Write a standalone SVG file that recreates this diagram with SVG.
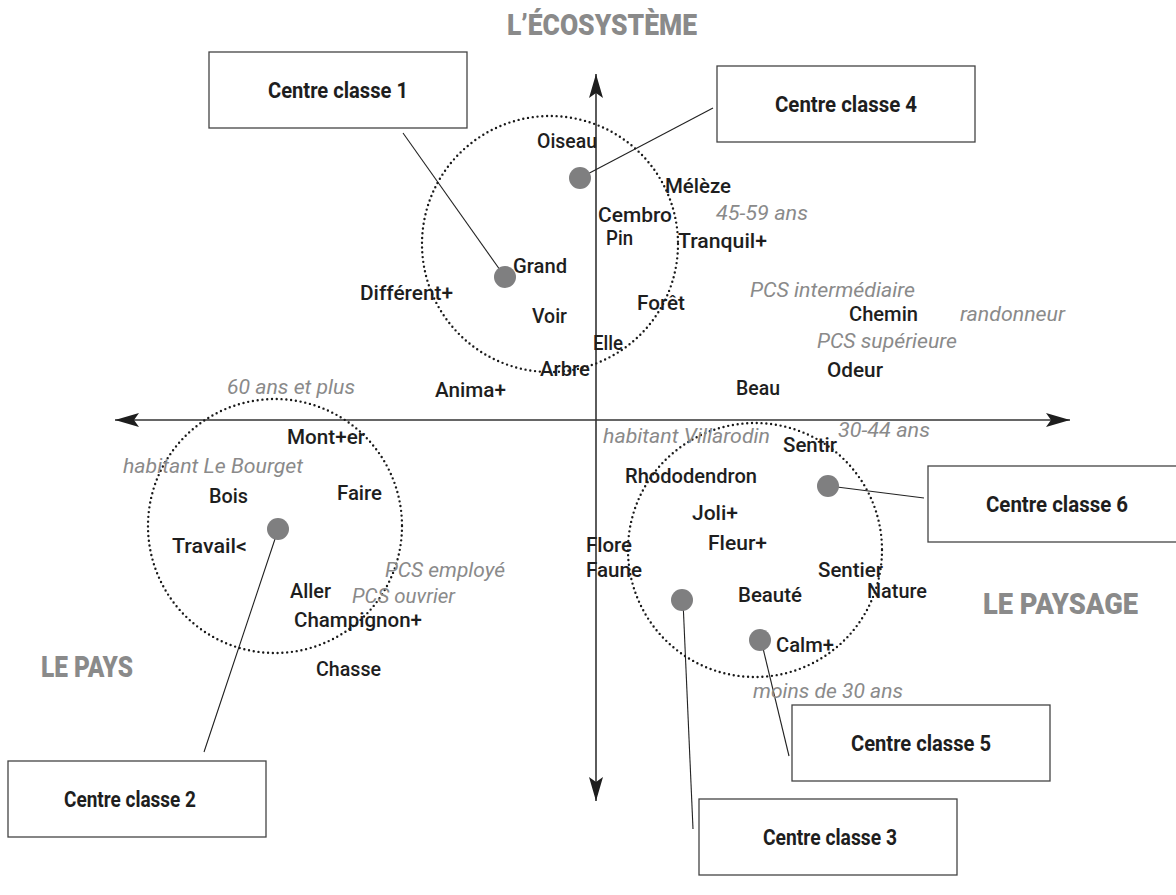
<svg xmlns="http://www.w3.org/2000/svg" width="1176" height="895" viewBox="0 0 1176 895">
<style>
.bg{fill:#ffffff}
.axis{stroke:#333333;stroke-width:1.6;fill:none}
.ring{fill:none;stroke:#1a1a1a;stroke-width:2.4;stroke-dasharray:0 4.8;stroke-linecap:round}
.dot{fill:#7f7f80}
.box{fill:#ffffff;stroke:#444444;stroke-width:1.3}
.conn{stroke:#222222;stroke-width:1.1;fill:none}
.w{font-family:Roboto,"Liberation Sans",Arial,sans-serif;font-size:21px;font-weight:500;fill:#1e1e1e}
.g{font-family:Roboto,"Liberation Sans",Arial,sans-serif;font-size:21px;font-style:italic;fill:#8a8a8a}
.t{font-family:Roboto,"Liberation Sans",Arial,sans-serif;font-size:29px;font-weight:900;fill:#8a8a8a}
.c{font-family:Roboto,"Liberation Sans",Arial,sans-serif;font-size:22px;font-weight:700;fill:#1e1e1e;text-anchor:middle}
</style>
<defs>
<marker id="ah" markerWidth="26" markerHeight="16" refX="24" refY="7" orient="auto" markerUnits="userSpaceOnUse">
<path d="M0,0 L24,7 L0,14 L5,7 Z" fill="#1e1e1e"/>
</marker>
</defs>
<rect class="bg" x="0" y="0" width="1176" height="895"/>

<g id="axes">
<line class="axis" x1="596" y1="420" x2="596" y2="74" marker-end="url(#ah)"/>
<line class="axis" x1="596" y1="420" x2="596" y2="801" marker-end="url(#ah)"/>
<line class="axis" x1="596" y1="420" x2="115" y2="420" marker-end="url(#ah)"/>
<line class="axis" x1="596" y1="420" x2="1070" y2="420" marker-end="url(#ah)"/>
</g>

<g id="clusters">
<circle class="ring" cx="550" cy="244" r="128"/>
<circle class="ring" cx="275" cy="526" r="127"/>
<circle class="ring" cx="755" cy="550" r="127"/>
</g>

<g id="titles">
<text class="t" x="507" y="35" textLength="190" lengthAdjust="spacingAndGlyphs">L’ÉCOSYSTÈME</text>
<text class="t" x="41" y="677" textLength="92" lengthAdjust="spacingAndGlyphs">LE PAYS</text>
<text class="t" x="983" y="614" textLength="155" lengthAdjust="spacingAndGlyphs">LE PAYSAGE</text>
</g>

<g id="connectors">
<line class="conn" x1="403" y1="133" x2="505" y2="277"/>
<line class="conn" x1="580" y1="178" x2="713" y2="108"/>
<line class="conn" x1="829" y1="486" x2="924" y2="498"/>
<line class="conn" x1="761" y1="640" x2="789" y2="756"/>
<line class="conn" x1="683" y1="601" x2="693" y2="829"/>
<line class="conn" x1="278" y1="530" x2="204" y2="752"/>
</g>

<g id="centre1">
<circle class="dot" cx="505" cy="277" r="11"/>
<rect class="box" x="209" y="52" width="258" height="76"/>
<text class="c" x="338" y="98" textLength="140" lengthAdjust="spacingAndGlyphs">Centre classe 1</text>
</g>
<g id="centre4">
<circle class="dot" cx="580" cy="178" r="11"/>
<rect class="box" x="717" y="66" width="258" height="76"/>
<text class="c" x="846" y="112" textLength="142" lengthAdjust="spacingAndGlyphs">Centre classe 4</text>
</g>
<g id="centre6">
<circle class="dot" cx="828" cy="486" r="11"/>
<rect class="box" x="928" y="466" width="258" height="76"/>
<text class="c" x="1057" y="512" textLength="142" lengthAdjust="spacingAndGlyphs">Centre classe 6</text>
</g>
<g id="centre5">
<circle class="dot" cx="760" cy="640" r="11"/>
<rect class="box" x="792" y="705" width="258" height="76"/>
<text class="c" x="921" y="751" textLength="140" lengthAdjust="spacingAndGlyphs">Centre classe 5</text>
</g>
<g id="centre3">
<circle class="dot" cx="682" cy="600" r="11"/>
<rect class="box" x="699" y="799" width="258" height="76"/>
<text class="c" x="830" y="845" textLength="134" lengthAdjust="spacingAndGlyphs">Centre classe 3</text>
</g>
<g id="centre2">
<circle class="dot" cx="278" cy="529" r="11"/>
<rect class="box" x="8" y="761" width="258" height="76"/>
<text class="c" x="130" y="807" textLength="132" lengthAdjust="spacingAndGlyphs">Centre classe 2</text>
</g>

<g id="words">
<text class="w" x="537" y="148" textLength="60" lengthAdjust="spacingAndGlyphs">Oiseau</text>
<text class="w" x="665" y="193" textLength="66" lengthAdjust="spacingAndGlyphs">Mélèze</text>
<text class="w" x="598" y="222" textLength="74" lengthAdjust="spacingAndGlyphs">Cembro</text>
<text class="w" x="606" y="245" textLength="27" lengthAdjust="spacingAndGlyphs">Pin</text>
<text class="w" x="678" y="248" textLength="89" lengthAdjust="spacingAndGlyphs">Tranquil+</text>
<text class="w" x="513" y="273" textLength="54" lengthAdjust="spacingAndGlyphs">Grand</text>
<text class="w" x="360" y="300" textLength="93" lengthAdjust="spacingAndGlyphs">Différent+</text>
<text class="w" x="532" y="323" textLength="35" lengthAdjust="spacingAndGlyphs">Voir</text>
<text class="w" x="637" y="310" textLength="48" lengthAdjust="spacingAndGlyphs">Forêt</text>
<text class="w" x="593" y="350" textLength="30" lengthAdjust="spacingAndGlyphs">Elle</text>
<text class="w" x="540" y="376" textLength="50" lengthAdjust="spacingAndGlyphs">Arbre</text>
<text class="w" x="435" y="397" textLength="71" lengthAdjust="spacingAndGlyphs">Anima+</text>
<text class="w" x="849" y="321" textLength="69" lengthAdjust="spacingAndGlyphs">Chemin</text>
<text class="w" x="827" y="377" textLength="56" lengthAdjust="spacingAndGlyphs">Odeur</text>
<text class="w" x="736" y="395" textLength="44" lengthAdjust="spacingAndGlyphs">Beau</text>
<text class="w" x="287" y="444" textLength="78" lengthAdjust="spacingAndGlyphs">Mont+er</text>
<text class="w" x="209" y="503" textLength="39" lengthAdjust="spacingAndGlyphs">Bois</text>
<text class="w" x="337" y="500" textLength="45" lengthAdjust="spacingAndGlyphs">Faire</text>
<text class="w" x="172" y="553" textLength="75" lengthAdjust="spacingAndGlyphs">Travail&lt;</text>
<text class="w" x="290" y="598" textLength="41" lengthAdjust="spacingAndGlyphs">Aller</text>
<text class="w" x="294" y="627" textLength="128" lengthAdjust="spacingAndGlyphs">Champignon+</text>
<text class="w" x="316" y="676" textLength="65" lengthAdjust="spacingAndGlyphs">Chasse</text>
<text class="w" x="783" y="452" textLength="54" lengthAdjust="spacingAndGlyphs">Sentir</text>
<text class="w" x="625" y="483" textLength="132" lengthAdjust="spacingAndGlyphs">Rhododendron</text>
<text class="w" x="692" y="520" textLength="46" lengthAdjust="spacingAndGlyphs">Joli+</text>
<text class="w" x="708" y="550" textLength="59" lengthAdjust="spacingAndGlyphs">Fleur+</text>
<text class="w" x="586" y="552" textLength="46" lengthAdjust="spacingAndGlyphs">Flore</text>
<text class="w" x="586" y="577" textLength="56" lengthAdjust="spacingAndGlyphs">Faune</text>
<text class="w" x="818" y="577" textLength="65" lengthAdjust="spacingAndGlyphs">Sentier</text>
<text class="w" x="867" y="598" textLength="60" lengthAdjust="spacingAndGlyphs">Nature</text>
<text class="w" x="738" y="602" textLength="64" lengthAdjust="spacingAndGlyphs">Beauté</text>
<text class="w" x="776" y="652" textLength="58" lengthAdjust="spacingAndGlyphs">Calm+</text>
</g>

<g id="variables">
<text class="g" x="716" y="220" textLength="92" lengthAdjust="spacingAndGlyphs">45-59 ans</text>
<text class="g" x="750" y="297" textLength="165" lengthAdjust="spacingAndGlyphs">PCS intermédiaire</text>
<text class="g" x="960" y="321" textLength="105" lengthAdjust="spacingAndGlyphs">randonneur</text>
<text class="g" x="817" y="348" textLength="140" lengthAdjust="spacingAndGlyphs">PCS supérieure</text>
<text class="g" x="227" y="394" textLength="128" lengthAdjust="spacingAndGlyphs">60 ans et plus</text>
<text class="g" x="123" y="473" textLength="180" lengthAdjust="spacingAndGlyphs">habitant Le Bourget</text>
<text class="g" x="385" y="577" textLength="120" lengthAdjust="spacingAndGlyphs">PCS employé</text>
<text class="g" x="352" y="603" textLength="103" lengthAdjust="spacingAndGlyphs">PCS ouvrier</text>
<text class="g" x="603" y="443" textLength="167" lengthAdjust="spacingAndGlyphs">habitant Villarodin</text>
<text class="g" x="838" y="437" textLength="92" lengthAdjust="spacingAndGlyphs">30-44 ans</text>
<text class="g" x="753" y="698" textLength="150" lengthAdjust="spacingAndGlyphs">moins de 30 ans</text>
</g>
</svg>
